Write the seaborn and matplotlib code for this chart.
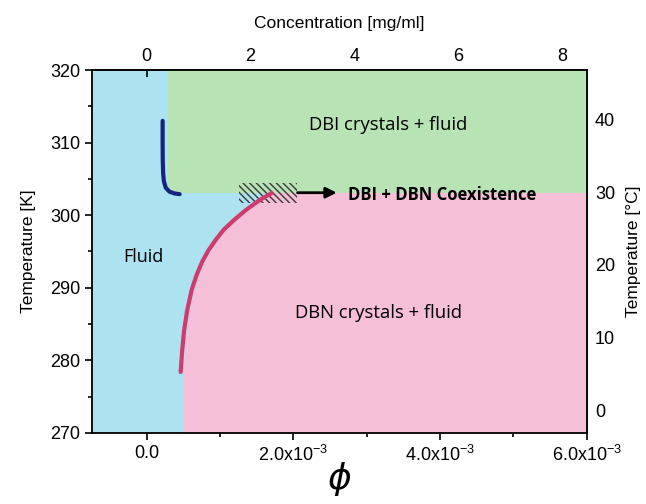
import matplotlib
matplotlib.use("Agg")
import matplotlib.pyplot as plt
import seaborn as sns
import numpy as np
import pandas as pd

# ---------------- data ----------------
# DBI solubility curve (phi, T[K])
dbi_phi = [0.218e-3, 0.218e-3, 0.220e-3, 0.225e-3, 0.235e-3, 0.26e-3, 0.31e-3, 0.38e-3, 0.45e-3]
dbi_T = [313.0, 310.0, 307.5, 305.8, 304.7, 303.8, 303.25, 303.0, 302.9]
# DBN solubility curve (phi, T[K])
dbn_phi = [0.464e-3, 0.485e-3, 0.512e-3, 0.553e-3, 0.614e-3, 0.683e-3, 0.758e-3,
           0.846e-3, 0.942e-3, 1.051e-3, 1.188e-3, 1.352e-3, 1.543e-3, 1.706e-3]
dbn_T = [278.4, 281.4, 284.2, 286.9, 289.7, 291.8, 293.6,
         295.2, 296.6, 298.0, 299.3, 300.7, 302.1, 303.05]
# region boundaries
t_coexist = 303.0
dbi_region_left = 0.285e-3
dbn_region_left_bottom = 0.50e-3
hatch_phi = [1.26e-3, 2.05e-3]
hatch_T = [301.7, 304.4]

x_limits = [-0.74e-3, 6.0e-3]
y_limits = [270, 320]
x_ticks = [0.0, 2.0e-3, 4.0e-3, 6.0e-3]
x_tick_labels = ["0.0", "2.0x10$^{-3}$", "4.0x10$^{-3}$", "6.0x10$^{-3}$"]
y_ticks = [270, 280, 290, 300, 310, 320]
top_ticks = [0, 2, 4, 6, 8]
right_ticks = [0, 10, 20, 30, 40]
conc_per_phi = 1413.0  # mg/ml per unit volume fraction

labels = {
    "dbi": "DBI crystals + fluid",
    "dbn": "DBN crystals + fluid",
    "fluid": "Fluid",
    "coex": "DBI + DBN Coexistence",
}

c_fluid = "#ADE2F0"
c_dbi = "#B8E3B5"
c_dbn = "#F5BFD7"
c_dbi_line = "#172383"
c_dbn_line = "#D03A6C"

# ---------------- style ----------------
sns.set_theme(style="ticks")
plt.rcParams["font.family"] = ["Liberation Sans", "DejaVu Sans"]
plt.rcParams["mathtext.default"] = "regular"
plt.rcParams["hatch.linewidth"] = 1.0
for k in ["text.color", "axes.labelcolor", "xtick.color", "ytick.color",
          "xtick.labelcolor", "ytick.labelcolor"]:
    plt.rcParams[k] = "black"

fig = plt.figure(figsize=(6.46, 5.04), dpi=100)
ax = fig.add_axes([0.143, 0.141, 0.765, 0.720])
ax.set_facecolor(c_fluid)

# regions
ax.fill_between([dbi_region_left, x_limits[1]], t_coexist, y_limits[1],
                color=c_dbi, linewidth=0, zorder=1)
pink_T = [y_limits[0], dbn_T[0]] + dbn_T[1:]
pink_phi = [dbn_region_left_bottom, dbn_region_left_bottom] + [p + 0.03e-3 for p in dbn_phi[1:]]
ax.fill_betweenx(pink_T, pink_phi, x_limits[1], color=c_dbn, linewidth=0, zorder=1)
ax.fill_between([pink_phi[-1], x_limits[1]], y_limits[0], t_coexist,
                color=c_dbn, linewidth=0, zorder=1)

# hatched coexistence box
ax.fill_between(hatch_phi, hatch_T[0], hatch_T[1], facecolor="none",
                edgecolor="#3a3a3a", hatch="\\\\\\\\\\", linewidth=0, zorder=2)

# curves
df_dbi = pd.DataFrame({"phi": dbi_phi, "T": dbi_T})
df_dbn = pd.DataFrame({"phi": dbn_phi, "T": dbn_T})
sns.lineplot(data=df_dbi, x="phi", y="T", sort=False, estimator=None,
             color=c_dbi_line, linewidth=3.0, ax=ax, zorder=3)
sns.lineplot(data=df_dbn, x="phi", y="T", sort=False, estimator=None,
             color=c_dbn_line, linewidth=3.0, ax=ax, zorder=3)

# arrow + labels
ax.annotate("", xy=(2.63e-3, 303.1), xytext=(2.02e-3, 303.1),
            arrowprops=dict(arrowstyle="-|>", color="black", lw=2, mutation_scale=16),
            zorder=4)
lab_font = ["Open Sans", "DejaVu Sans"]
ax.text(2.74e-3, 302.8, labels["coex"], fontsize=12, fontweight="bold",
        ha="left", va="center", family=lab_font, zorder=4, color="black")
ax.text(3.30e-3, 312.4, labels["dbi"], fontsize=13.3, ha="center", va="center",
        family=lab_font, zorder=4, color="black")
ax.text(3.16e-3, 286.5, labels["dbn"], fontsize=13.3, ha="center", va="center",
        family=lab_font, zorder=4, color="black")
ax.text(-0.05e-3, 294.2, labels["fluid"], fontsize=13, ha="center", va="center",
        family=lab_font, zorder=4, color="black")

# axes
ax.set_xlim(*x_limits)
ax.set_ylim(*y_limits)
ax.set_xticks(x_ticks)
ax.set_xticklabels(x_tick_labels)
ax.set_xticks([1e-3, 3e-3, 5e-3], minor=True)
ax.set_yticks(y_ticks)
ax.set_yticks([275, 285, 295, 305, 315], minor=True)
ax.set_xlabel(r"$\it{\phi}$", fontsize=26, family=["DejaVu Serif"])
ax.xaxis.set_label_coords(0.5, -0.075)
ax.set_ylabel("Temperature [K]", fontsize=12.5, labelpad=10)
ax.tick_params(axis="both", which="major", labelsize=13, length=5, width=1.2,
               direction="out", color="black")
ax.tick_params(axis="both", which="minor", length=3, width=1.2, direction="out")
for s in ax.spines.values():
    s.set_linewidth(1.3)
    s.set_color("black")
    s.set_zorder(5)

top = ax.secondary_xaxis("top", functions=(lambda p: p * conc_per_phi,
                                          lambda c: c / conc_per_phi))
top.set_xticks(top_ticks)
top.set_xticks([1, 3, 5, 7], minor=True)
top.set_xlabel("Concentration [mg/ml]", fontsize=12.5, labelpad=14)
top.tick_params(which="major", direction="in", length=5, width=1.2, labelsize=13, pad=4)
top.tick_params(which="minor", direction="in", length=3, width=1.2)
top.spines["top"].set_linewidth(1.3)

right = ax.secondary_yaxis("right", functions=(lambda k: k - 273.15,
                                               lambda c: c + 273.15))
right.set_yticks(right_ticks)
right.set_yticks([5, 15, 25, 35, 45], minor=True)
right.set_ylabel("Temperature [°C]", fontsize=12.5, labelpad=8)
right.tick_params(which="major", direction="in", length=5, width=1.2, labelsize=13, pad=6)
right.tick_params(which="minor", direction="in", length=3, width=1.2)
right.spines["right"].set_linewidth(1.3)

fig.savefig("out.png", dpi=100, facecolor="white")
